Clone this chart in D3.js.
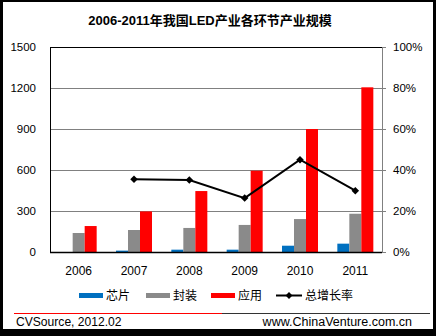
<!DOCTYPE html>
<html><head><meta charset="utf-8">
<script src="https://cdn.jsdelivr.net/npm/d3@7"></script>
<style>body{margin:0;background:#fff}svg{display:block}text{font-family:"Liberation Sans",Arial,"Noto Sans CJK SC",sans-serif}</style>
</head><body><svg id="c" width="436" height="336"></svg>
<script>
const title = "2006-2011年我国LED产业各环节产业规模";
const years = ["2006","2007","2008","2009","2010","2011"];
const chip = [0, 10, 17, 17, 46, 61];
const pkg = [139, 161, 176, 198, 241, 280];
const app = [190, 297, 446, 595, 900, 1205];
const growth = [null, 35.5, 35.1, 26.3, 45.0, 29.9];
const leftTicks = [0, 300, 600, 900, 1200, 1500];
const rightTicks = [0, 20, 40, 60, 80, 100];
const seriesNames = ["芯片", "封装", "应用", "总增长率"];
const colors = ["#0070C0", "#8a8a8a", "#FF0000", "#000000"];
const source = "CVSource, 2012.02";
const site = "www.ChinaVenture.com.cn";

const svg = d3.select("#c");
svg.append("rect").attr("x",0).attr("y",0).attr("width",436).attr("height",336).attr("fill","#000");
svg.append("rect").attr("x",3).attr("y",2).attr("width",430).attr("height",327).attr("fill","#fff");

const L = 50, R = 382, T = 47, B = 252;
const x = d3.scaleBand().domain(years).range([L, R]);
const y = d3.scaleLinear().domain([0, 1500]).range([B, T]);
const y2 = d3.scaleLinear().domain([0, 100]).range([B, T]);

svg.append("text").attr("x",210).attr("y",25).attr("text-anchor","middle")
  .attr("font-size",13).attr("font-weight","bold").text(title);

svg.append("g").selectAll("line").data(leftTicks.filter(d=>d>0 && d<1500)).join("line")
  .attr("x1",L).attr("x2",R).attr("y1",d=>y(d)+0.5).attr("y2",d=>y(d)+0.5)
  .attr("stroke","#808080").attr("stroke-width",1);

svg.append("line").attr("x1",L).attr("x2",R).attr("y1",T+0.5).attr("y2",T+0.5).attr("stroke","#000");
svg.append("line").attr("x1",L+0.5).attr("x2",L+0.5).attr("y1",T).attr("y2",B).attr("stroke","#000");
svg.append("line").attr("x1",R+0.5).attr("x2",R+0.5).attr("y1",T).attr("y2",B).attr("stroke","#808080");
svg.append("g").selectAll("line").data(rightTicks).join("line")
  .attr("x1",R).attr("x2",R+4).attr("y1",d=>y2(d)+0.5).attr("y2",d=>y2(d)+0.5).attr("stroke","#808080");

const bw = 12;
const sets = [chip, pkg, app];
sets.forEach((vals, si) => {
  svg.append("g").selectAll("rect").data(vals).join("rect")
    .attr("x",(d,i)=>x(years[i]) + x.bandwidth()/2 - 1.5*bw + 1 + si*bw)
    .attr("y",d=>y(d)).attr("width",bw).attr("height",d=>B - y(d))
    .attr("fill",colors[si]);
});

svg.append("line").attr("x1",L).attr("x2",R).attr("y1",B+0.5).attr("y2",B+0.5).attr("stroke","#000").attr("stroke-width",1.5);

const pts = growth.map((g,i)=>({g, i})).filter(d=>d.g!==null);
const line = d3.line().x(d=>x(years[d.i])+x.bandwidth()/2+1).y(d=>y2(d.g));
svg.append("path").attr("d",line(pts)).attr("fill","none").attr("stroke","#000").attr("stroke-width",2);
svg.append("g").selectAll("path").data(pts).join("path")
  .attr("d",d3.symbol(d3.symbolDiamond2, 36)())
  .attr("transform",d=>`translate(${x(years[d.i])+x.bandwidth()/2+1},${y2(d.g)})`)
  .attr("fill","#000");

svg.append("g").selectAll("text").data(leftTicks).join("text")
  .attr("x",36).attr("y",d=>y(d)+4).attr("text-anchor","end").attr("font-size",11.5).text(d=>d);
svg.append("g").selectAll("text").data(rightTicks).join("text")
  .attr("x",393).attr("y",d=>y2(d)+4).attr("font-size",11.5).text(d=>d+"%");
svg.append("g").selectAll("text").data(years).join("text")
  .attr("x",d=>x(d)+x.bandwidth()/2+1).attr("y",275).attr("text-anchor","middle").attr("font-size",12).text(d=>d);

const lx = [79, 146, 211, 276];
const lg = svg.append("g");
seriesNames.forEach((n,i)=>{
  if(i<3){
    lg.append("rect").attr("x",lx[i]).attr("y",293).attr("width",24).attr("height",5).attr("fill",colors[i]);
    lg.append("text").attr("x",lx[i]+27).attr("y",300).attr("font-size",12).text(n);
  } else {
    lg.append("line").attr("x1",lx[i]).attr("x2",lx[i]+26).attr("y1",295.5).attr("y2",295.5).attr("stroke","#000").attr("stroke-width",2);
    lg.append("path").attr("d",d3.symbol(d3.symbolDiamond2, 30)()).attr("transform",`translate(${lx[i]+13},295.5)`);
    lg.append("text").attr("x",lx[i]+29).attr("y",300).attr("font-size",12).text(n);
  }
});

svg.append("line").attr("x1",14).attr("x2",222).attr("y1",313.5).attr("y2",313.5).attr("stroke","#FF0000").attr("stroke-width",1);
svg.append("line").attr("x1",222).attr("x2",430).attr("y1",313.5).attr("y2",313.5).attr("stroke","#333").attr("stroke-width",1);
svg.append("text").attr("x",16).attr("y",326).attr("font-size",12.1).text(source);
svg.append("text").attr("x",412).attr("y",326).attr("text-anchor","end").attr("font-size",12.5).text(site);
</script></body></html>
